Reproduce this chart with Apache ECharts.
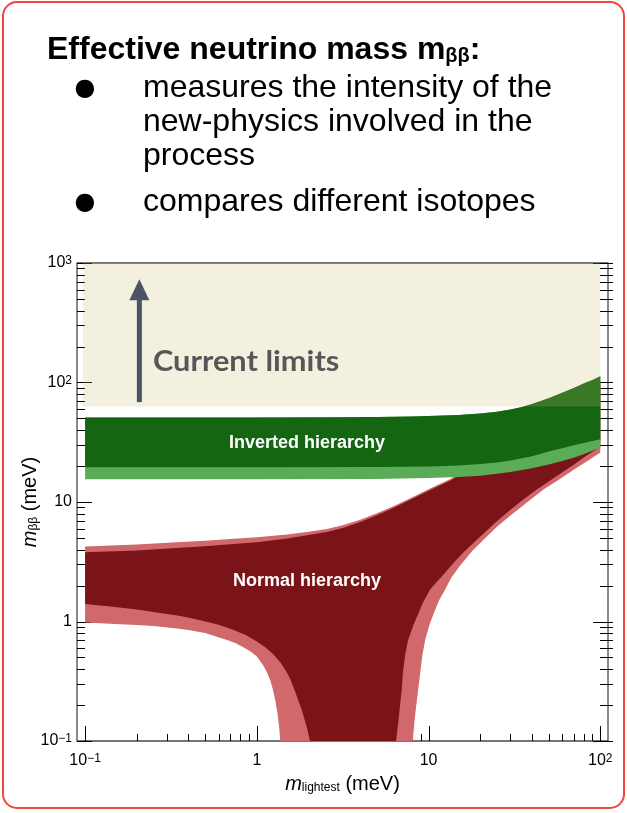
<!DOCTYPE html>
<html>
<head>
<meta charset="utf-8">
<script src="https://cdn.jsdelivr.net/npm/echarts@6/dist/echarts.min.js"></script>
<style>
  html, body { margin: 0; padding: 0; background: #ffffff; }
  #chart { width: 627px; height: 813px; }
</style>
</head>
<body>
<div id="chart"></div>
<script>
// Axis ranges (meV)
const xRange = [0.0897, 110.9];
const yRange = [0.1, 1000];

// Tick values
const xMajorTicks = [0.1, 1, 10, 100];
const xMinorTicks = [0.2, 0.3, 0.4, 0.5, 0.6, 0.7, 0.8, 0.9, 2, 3, 4, 5, 6, 7, 8, 9, 20, 30, 40, 50, 60, 70, 80, 90];
const yMajorTicks = [0.1, 1, 10, 100, 1000];
const yMinorTicks = [0.2, 0.3, 0.4, 0.5, 0.6, 0.7, 0.8, 0.9, 2, 3, 4, 5, 6, 7, 8, 9,
                     20, 30, 40, 50, 60, 70, 80, 90, 200, 300, 400, 500, 600, 700, 800, 900];

// Normal hierarchy, outer band edges: [m_lightest, m_bb] in meV
const nhOuterUpper = [[0.1, 4.25], [0.2, 4.4], [0.34, 4.6], [0.5, 4.75], [0.7, 4.9], [1, 5.06], [1.5, 5.35],
                      [2, 5.65], [2.56, 5.94], [3.2, 6.43], [4, 7.11], [5, 8.04], [6, 9.0], [7, 9.96], [8.5, 11.4],
                      [10, 12.8], [13.4, 15.6], [20, 22], [30, 32], [50, 52], [100, 103]];
const nhOuterRight = [[100, 26], [85, 22.3], [70, 18.6], [55, 14.8], [46.7, 12.7], [38, 10.1], [30, 7.7], [25, 6.2],
                      [20.9, 4.84], [18, 3.9], [15, 2.85], [13.5, 2.3], [12.5, 1.85], [11.5, 1.5], [10.8, 1.2],
                      [10.1, 0.93], [9.55, 0.70], [9.2, 0.52], [9.0, 0.40], [8.7, 0.27], [8.45, 0.19], [8.25, 0.14], [8.1, 0.1]];
const nhOuterLeft = [[1.37, 0.1], [1.35, 0.13], [1.32, 0.17], [1.28, 0.22], [1.24, 0.27], [1.2, 0.32], [1.15, 0.37],
                     [1.1, 0.42], [1.0, 0.51], [0.92, 0.56], [0.85, 0.60], [0.75, 0.66], [0.67, 0.70], [0.5, 0.80],
                     [0.4, 0.85], [0.344, 0.875], [0.25, 0.915], [0.2, 0.935], [0.15, 0.955], [0.1, 0.98]];

// Normal hierarchy, inner band edges
const nhInnerUpper = [[0.1, 3.79], [0.2, 3.93], [0.34, 4.12], [0.5, 4.27], [0.7, 4.43], [1, 4.6], [1.5, 4.95],
                      [2, 5.3], [2.56, 5.6], [3.2, 6.1], [4, 6.8], [5, 7.75], [6, 8.7], [7, 9.65], [8.5, 11.05],
                      [10, 12.4], [13.4, 15.1], [20, 21.5], [30, 31], [50, 51], [100, 100]];
const nhInnerRight = [[100, 29], [85, 25], [70, 20.5], [55, 16.3], [42.7, 12.7], [35, 10.3], [30, 8.6], [25, 6.9],
                      [19.1, 4.84], [16, 3.8], [14, 3.1], [12, 2.4], [10.2, 1.85], [9.3, 1.45], [8.8, 1.2], [8.2, 0.95],
                      [7.6, 0.70], [7.3, 0.52], [7.1, 0.38], [6.98, 0.27], [6.8, 0.19], [6.65, 0.14], [6.47, 0.1]];
const nhInnerLeft = [[2.04, 0.1], [1.97, 0.125], [1.9, 0.15], [1.82, 0.185], [1.75, 0.215], [1.67, 0.26], [1.58, 0.32],
                     [1.5, 0.37], [1.38, 0.45], [1.25, 0.53], [1.12, 0.61], [1.0, 0.68], [0.85, 0.78], [0.7, 0.87],
                     [0.6, 0.94], [0.5, 1.0], [0.4, 1.08], [0.344, 1.12], [0.25, 1.2], [0.2, 1.26], [0.15, 1.32], [0.1, 1.40]];

// Inverted hierarchy band edges
const ihUpper = [[0.1, 51], [1, 51], [3, 51.2], [5, 51.5], [8, 52], [10, 52.5], [15, 53.5], [20, 55], [25, 57],
                 [30, 59.5], [35, 62.5], [40, 66], [45, 70], [50, 74], [60, 82], [70, 90], [80, 98], [90, 105], [100, 113]];
const ihInnerLower = [[0.1, 19.5], [1, 19.5], [5, 19.6], [10, 19.8], [15, 20.2], [20, 20.8], [25, 21.4], [30, 22.2],
                      [40, 24.2], [50, 26.4], [60, 28.2], [70, 29.8], [80, 31.2], [90, 32.4], [100, 33.5]];
const ihOuterLower = [[0.1, 15.5], [1, 15.5], [5, 15.6], [10, 15.9], [15, 16.2], [20, 16.6], [25, 17.2], [30, 17.8],
                      [40, 19.2], [50, 20.6], [60, 22], [70, 23.5], [80, 25.1], [90, 26.8], [100, 28.5]];

// Region excluded by current experiments
const limitX = [0.097, 100];
const limitY = [63, 1000];

// Arrow pointing into the excluded region
const arrowX = 0.207;
const arrowY = [68.5, 731];

const colors = {
  nhOuter: '#d0686c',
  nhInner: '#7b1419',
  ihOuter: '#5aac56',
  ihInner: '#146611',
  limits: 'rgba(200,187,114,0.22)',
  arrow: '#4a5467'
};

const FONT = "'Liberation Sans', Arial, Helvetica, sans-serif";

function polygonSeries(name, points, color, z) {
  return {
    type: 'custom',
    name: name,
    z: z,
    silent: true,
    clip: true,
    data: points,
    renderItem: function (params, api) {
      if (params.dataIndex !== 0) return null;
      const pts = points.map(function (p) { return api.coord(p); });
      return { type: 'polygon', shape: { points: pts }, style: { fill: color } };
    }
  };
}

function expLabel(v) {
  const e = Math.round(Math.log10(v));
  if (e === 0) return '{b|1}';
  if (e === 1) return '{b|10}';
  return '{b|10}{s|' + (e < 0 ? '\u2212' : '') + Math.abs(e) + '}';
}

const labelRich = {
  b: { fontFamily: FONT, fontSize: 16, color: '#000', lineHeight: 16, padding: [4, 0, 0, 0], verticalAlign: 'bottom' },
  s: { fontFamily: FONT, fontSize: 12, color: '#000', lineHeight: 12, verticalAlign: 'top' }
};

const nameRich = {
  i: { fontFamily: FONT, fontSize: 20, fontStyle: 'italic', color: '#000', lineHeight: 20, padding: [0, 0, 4, 0], verticalAlign: 'top' },
  sub: { fontFamily: FONT, fontSize: 12, color: '#000', lineHeight: 12, verticalAlign: 'bottom' },
  r: { fontFamily: FONT, fontSize: 20, color: '#000', lineHeight: 20, padding: [0, 0, 4, 0], verticalAlign: 'top' }
};

const xTickData = xMajorTicks.map(function (v) { return [v, yRange[0], 1]; })
  .concat(xMinorTicks.map(function (v) { return [v, yRange[0], 0]; }));
const yTickData = yMajorTicks.map(function (v) { return [xRange[0], v, 1]; })
  .concat(yMinorTicks.map(function (v) { return [xRange[0], v, 0]; }));

const chart = echarts.init(document.getElementById('chart'), null, { renderer: 'canvas' });

chart.setOption({
  animation: false,
  backgroundColor: '#ffffff',
  grid: {
    left: 77, right: 19, top: 263, bottom: 72,
    show: true, borderColor: '#4a4a4a', borderWidth: 1.3, backgroundColor: 'transparent'
  },
  xAxis: {
    type: 'log', logBase: 10, min: xRange[0], max: xRange[1],
    axisLine: { show: false }, axisTick: { show: false }, splitLine: { show: false },
    axisLabel: { showMinLabel: false, showMaxLabel: false, margin: 12, formatter: expLabel, rich: labelRich },
    name: '{i|m}{sub|lightest}{r| (meV)}',
    nameLocation: 'middle', nameGap: 33, nameMoveOverlap: false,
    nameTextStyle: { rich: nameRich }
  },
  yAxis: {
    type: 'log', logBase: 10, min: yRange[0], max: yRange[1],
    axisLine: { show: false }, axisTick: { show: false }, splitLine: { show: false },
    axisLabel: { showMinLabel: true, showMaxLabel: true, margin: 5, formatter: expLabel, rich: labelRich },
    name: '{i|m}{sub|\u03b2\u03b2}{r| (meV)}',
    nameLocation: 'middle', nameGap: 37, nameRotate: 90, nameMoveOverlap: false,
    nameTextStyle: { rich: nameRich }
  },
  series: [
    {
      type: 'custom', name: 'x ticks', z: 1, silent: true, clip: false,
      data: xTickData,
      encode: { x: 0, y: 1 },
      renderItem: function (params, api) {
        const p = api.coord([api.value(0), api.value(1)]);
        const len = api.value(2) ? 15 : 7;
        const x = Math.round(p[0]) + 0.5;
        return { type: 'line', shape: { x1: x, y1: p[1], x2: x, y2: p[1] - len }, style: { stroke: '#000', lineWidth: 1 } };
      }
    },
    {
      type: 'custom', name: 'y ticks', z: 1, silent: true, clip: false,
      data: yTickData,
      encode: { x: 0, y: 1 },
      renderItem: function (params, api) {
        const pl = api.coord([api.value(0), api.value(1)]);
        const pr = api.coord([xRange[1], api.value(1)]);
        const len = api.value(2) ? 15 : 8;
        const y = Math.round(pl[1]) + 0.5;
        return {
          type: 'group',
          children: [
            { type: 'line', shape: { x1: pl[0], y1: y, x2: pl[0] + len, y2: y }, style: { stroke: '#000', lineWidth: 1 } },
            { type: 'line', shape: { x1: pr[0] - len, y1: y, x2: pr[0] + 5, y2: y }, style: { stroke: '#000', lineWidth: 1 } }
          ]
        };
      }
    },
    polygonSeries('Normal hierarchy (outer)', nhOuterUpper.concat(nhOuterRight, nhOuterLeft), colors.nhOuter, 2),
    polygonSeries('Normal hierarchy', nhInnerUpper.concat(nhInnerRight, nhInnerLeft), colors.nhInner, 3),
    polygonSeries('Inverted hierarchy (outer)', ihUpper.concat(ihOuterLower.slice().reverse()), colors.ihOuter, 4),
    polygonSeries('Inverted hierarchy', ihUpper.concat(ihInnerLower.slice().reverse()), colors.ihInner, 5),
    polygonSeries('Current limits',
      [[limitX[0], limitY[0]], [limitX[1], limitY[0]], [limitX[1], limitY[1]], [limitX[0], limitY[1]]],
      colors.limits, 6),
    {
      type: 'custom', name: 'arrow', z: 7, silent: true, clip: false,
      data: [[arrowX, arrowY[0]], [arrowX, arrowY[1]]],
      renderItem: function (params, api) {
        if (params.dataIndex !== 0) return null;
        const b = api.coord([arrowX, arrowY[0]]);
        const t = api.coord([arrowX, arrowY[1]]);
        const head = 21, halfW = 10, shaft = 5;
        return {
          type: 'group',
          children: [
            { type: 'rect', shape: { x: b[0] - shaft / 2, y: t[1] + head - 1, width: shaft, height: b[1] - t[1] - head + 1 }, style: { fill: colors.arrow } },
            { type: 'polygon', shape: { points: [[t[0], t[1]], [t[0] - halfW, t[1] + head], [t[0] + halfW, t[1] + head]] }, style: { fill: colors.arrow } }
          ]
        };
      }
    }
  ],
  graphic: [
    {
      type: 'rect', z: 0, silent: true,
      shape: { x: 3, y: 2, width: 621, height: 806, r: 14 },
      style: { fill: 'none', stroke: '#f0463c', lineWidth: 2 }
    },
    {
      type: 'text', z: 100, x: 47, y: 50, silent: true,
      style: {
        text: '{t|Effective neutrino mass m}{s|\u03b2\u03b2}{t|:}',
        verticalAlign: 'middle',
        rich: {
          t: { fontFamily: FONT, fontSize: 32, fontWeight: 'bold', fill: '#000', lineHeight: 32, padding: [0, 0, 11, 0], verticalAlign: 'top' },
          s: { fontFamily: FONT, fontSize: 20, fontWeight: 'bold', fill: '#000', lineHeight: 20, verticalAlign: 'bottom' }
        }
      }
    },
    { type: 'text', z: 100, x: 85, y: 89, silent: true, style: { text: '\u25cf', font: "24px 'DejaVu Sans'", fill: '#000', align: 'center', verticalAlign: 'middle' } },
    { type: 'text', z: 100, x: 143, y: 88, silent: true, style: { text: 'measures the intensity of the', font: '32px ' + FONT, fill: '#000', verticalAlign: 'middle' } },
    { type: 'text', z: 100, x: 143, y: 122, silent: true, style: { text: 'new-physics involved in the', font: '32px ' + FONT, fill: '#000', verticalAlign: 'middle' } },
    { type: 'text', z: 100, x: 143, y: 156, silent: true, style: { text: 'process', font: '32px ' + FONT, fill: '#000', verticalAlign: 'middle' } },
    { type: 'text', z: 100, x: 85, y: 203, silent: true, style: { text: '\u25cf', font: "24px 'DejaVu Sans'", fill: '#000', align: 'center', verticalAlign: 'middle' } },
    { type: 'text', z: 100, x: 143, y: 202, silent: true, style: { text: 'compares different isotopes', font: '32px ' + FONT, fill: '#000', verticalAlign: 'middle' } },
    { type: 'text', z: 100, x: 153, y: 362, scaleX: 1.06, silent: true, style: { text: 'Current limits', font: 'bold 29px Lato, sans-serif', fill: '#575757', verticalAlign: 'middle' } },
    { type: 'text', z: 100, x: 307, y: 443, silent: true, style: { text: 'Inverted hierarchy', font: 'bold 18px ' + FONT, fill: '#ffffff', align: 'center', verticalAlign: 'middle' } },
    { type: 'text', z: 100, x: 307, y: 581, silent: true, style: { text: 'Normal hierarchy', font: 'bold 18px ' + FONT, fill: '#ffffff', align: 'center', verticalAlign: 'middle' } }
  ]
});
</script>
</body>
</html>
